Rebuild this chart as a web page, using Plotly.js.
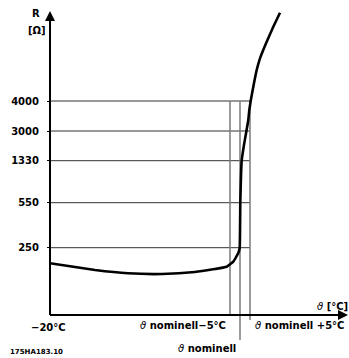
<!DOCTYPE html>
<html><head><meta charset="utf-8">
<script src="https://cdn.plot.ly/plotly-3.0.1.min.js"></script>
<style>html,body{margin:0;padding:0;background:#fff}#chart{width:349px;height:358px}</style>
</head><body><div id="chart"></div>
<script>
// Schematic PTC characteristic: x = temperature relative to ϑ nominell (approx. °C), y = schematic resistance level
const curveX = [-95, -72.5, -56, -39, -22.5, -13.5, -6.65, -3.35, -0.85, -0.15, 0.15, 0.85, 1.9, 3.15, 4.15, 4.65, 5.35, 6.65, 8.35, 10, 13.35, 16.65, 20];
const curveY = [51.7, 45, 41.7, 41, 43, 45.7, 48.3, 53.3, 62, 67.3, 112.3, 154.3, 169, 183.3, 195, 205, 214, 228.3, 245, 256.7, 273.3, 288.3, 302.3];
const yTickLevels = [67.3, 112.3, 154.3, 184, 214];
const yTickText = ["250", "550", "1330", "3000", "4000"];
const tempMarks = [-5, 0, 5];
const tempMarkBottoms = [0, -25, -5];
const axisX0 = -95;
const font = "DejaVu Sans";
const theta = '<span style="font-weight:normal"><i>ϑ</i></span>';

const traces = [];
// horizontal reference lines
yTickLevels.forEach(v => traces.push({x:[axisX0, 5], y:[v, v], mode:'lines', line:{color:'#333', width:1}, hoverinfo:'skip', showlegend:false}));
// vertical reference lines
tempMarks.forEach((t,i) => traces.push({x:[t, t], y:[yTickLevels[4], tempMarkBottoms[i]], mode:'lines', line:{color:'#7a7a7a', width:1.5}, hoverinfo:'skip', showlegend:false}));
// axes
traces.push({x:[axisX0, axisX0], y:[0, 296], mode:'lines', line:{color:'#000', width:2}, hoverinfo:'skip', showlegend:false});
traces.push({x:[axisX0, 50], y:[0, 0], mode:'lines', line:{color:'#000', width:2}, hoverinfo:'skip', showlegend:false});
// curve
traces.push({x:curveX, y:curveY, mode:'lines', line:{color:'#000', width:2.6, shape:'spline', smoothing:0.3}, hoverinfo:'skip', showlegend:false});

const tf = {family:font, size:10, color:'#000', weight:'bold'};
const ann = [
  {x:axisX0, y:304, ax:axisX0, ay:290, axref:'x', ayref:'y', xref:'x', yref:'y', text:'', showarrow:true, arrowhead:2, arrowsize:1, arrowwidth:2, arrowcolor:'#000'},
  {x:54, y:0, ax:44, ay:0, axref:'x', ayref:'y', xref:'x', yref:'y', text:'', showarrow:true, arrowhead:2, arrowsize:1, arrowwidth:2, arrowcolor:'#000'},
  {x:-102, y:302, text:'R', showarrow:false, font:tf},
  {x:-101.5, y:285, text:'[Ω]', showarrow:false, font:tf},
  {x:-96, y:-12, text:'−20°C', showarrow:false, font:tf},
  {x:-6, y:-10, xanchor:'right', text:theta + ' nominell−5°C', showarrow:false, font:tf},
  {x:-1, y:-33, xanchor:'right', text:theta + ' nominell', showarrow:false, font:tf},
  {x:6.25, y:-10, xanchor:'left', text:theta + ' nominell +5°C', showarrow:false, font:tf},
  {x:46.25, y:9, text:theta + ' [°C]', showarrow:false, font:tf},
  {x:-102, y:-37, text:'175HA183.10', showarrow:false, font:{family:font, size:7, color:'#000', weight:'bold'}}
];

const layout = {
  width:349, height:358,
  margin:{l:0, r:0, t:0, b:0, pad:0},
  paper_bgcolor:'#fff', plot_bgcolor:'#fff',
  showlegend:false,
  xaxis:{range:[-120, 54.5], visible:false, fixedrange:true},
  yaxis:{range:[-43, 315], anchor:'free', position:50/349, side:'left',
    tickvals:yTickLevels, ticktext:yTickText, ticks:'outside', ticklen:3, tickcolor:'#000', tickwidth:1,
    showgrid:false, zeroline:false, showline:false, ticklabelstandoff:6,
    tickfont:tf, fixedrange:true},
  annotations:ann
};
Plotly.newPlot('chart', traces, layout, {displayModeBar:false, staticPlot:true});
</script></body></html>
